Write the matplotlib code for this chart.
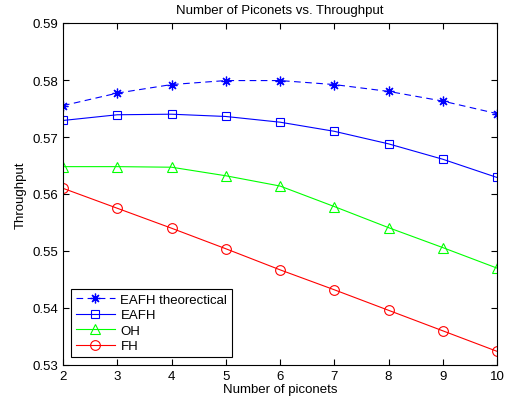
import matplotlib
matplotlib.use("Agg")
import matplotlib.pyplot as plt

plt.rcParams['font.family'] = ['Liberation Sans', 'DejaVu Sans']

piconets = [2, 3, 4, 5, 6, 7, 8, 9, 10]
eafh_theo = [0.5755, 0.5777, 0.5792, 0.5799, 0.5799, 0.5792, 0.5780, 0.5763, 0.5741]
eafh = [0.5729, 0.5739, 0.5740, 0.5736, 0.5726, 0.5710, 0.5688, 0.5661, 0.5629]
oh = [0.5648, 0.5648, 0.5647, 0.5632, 0.5614, 0.5578, 0.5541, 0.5506, 0.5470]
fh = [0.5610, 0.5575, 0.5540, 0.5504, 0.5467, 0.5432, 0.5396, 0.5360, 0.5324]

fs = 9.5
fig = plt.figure(figsize=(5.15, 4.06), dpi=100)
ax = fig.add_axes([63 / 515, 40 / 406, 434 / 515, 342 / 406])

lw = 0.8
# matlab style asterisk: plus and cross together
ax.plot(piconets, eafh_theo, '--', color='blue', marker=(8, 2, 0), ms=7, mew=0.9,
        lw=lw, dashes=(6, 4), label='EAFH theorectical')
ax.plot(piconets, eafh, '-', color='blue', marker='s', ms=6, mfc='none', mew=0.8,
        lw=lw, label='EAFH')
ax.plot(piconets, oh, '-', color=(0, 1, 0), marker='^', ms=7, mfc='none', mew=0.8,
        lw=lw, label='OH')
ax.plot(piconets, fh, '-', color='red', marker='o', ms=7, mfc='none', mew=0.8,
        lw=lw, label='FH')

ax.set_xlim(2, 10)
ax.set_ylim(0.53, 0.59)
ax.set_xticks(piconets)
ax.set_yticks([0.53, 0.54, 0.55, 0.56, 0.57, 0.58, 0.59])
ax.tick_params(direction='in', top=True, right=True, labelsize=fs, length=4, width=0.8)
for s in ax.spines.values():
    s.set_linewidth(0.8)

ax.set_title('Number of Piconets vs. Throughput', fontsize=fs, pad=7)
ax.set_xlabel('Number of piconets', fontsize=fs, labelpad=1)
ax.set_ylabel('Throughput', fontsize=fs, labelpad=4)

leg = ax.legend(loc='lower left', fontsize=fs, fancybox=False, framealpha=1,
                edgecolor='black', borderaxespad=0.6, handlelength=3.0,
                labelspacing=0.25, borderpad=0.35, handletextpad=0.4)
leg.get_frame().set_linewidth(0.8)

fig.savefig('out.png', dpi=100)
